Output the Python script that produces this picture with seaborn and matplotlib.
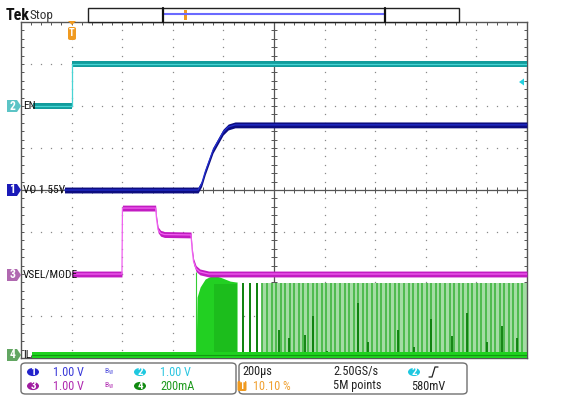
import numpy as np
import pandas as pd
import matplotlib
matplotlib.use("Agg")
import matplotlib.pyplot as plt
import seaborn as sns
from matplotlib.patches import FancyBboxPatch, Circle, Polygon, Rectangle
from matplotlib.lines import Line2D
from matplotlib import font_manager

# ---------------- data (time in microseconds relative to trigger) ----------------
en_t = [-154, 0, 0, 1798]
en_v = [0.0, 0.0, 1.0, 1.0]

vo_t = [-30, 498, 512, 526, 557, 597, 617, 644, 680, 1798]
vo_v = [0.0, 0.0, 0.15, 0.43, 0.95, 1.38, 1.50, 1.55, 1.55, 1.55]

vsel_t = [0, 197, 199, 330, 334, 340, 350, 365, 470, 474, 480, 490, 505, 540, 1798]
vsel_v = [0.0, 0.0, 1.57, 1.57, 1.30, 1.05, 0.97, 0.94, 0.93, 0.60, 0.30, 0.13, 0.05, 0.0, 0.0]

il_t = [-158, 490, 490, 494, 506, 526, 557, 585, 625, 648, 652, 652, 1798]
il_ma = [0, 0, 0, 276, 324, 362, 381, 371, 352, 348, 348, 0, 0]

pulse_t = [676, 704, 731, 752, 771, 789, 806, 824, 842, 861, 879, 897, 914, 933, 951,
           968, 987, 1005, 1023, 1041, 1059, 1077, 1095, 1113, 1131, 1149, 1167, 1186,
           1204, 1222, 1240, 1258, 1276, 1294, 1312, 1330, 1348, 1366, 1384, 1402, 1420,
           1438, 1456, 1474, 1492, 1510, 1528, 1546, 1564, 1582, 1600, 1618, 1636, 1654,
           1672, 1690, 1708, 1726, 1744, 1762, 1780]
pulse_ma = 343
dark_pulse_t = [676, 704, 731, 818, 858, 921, 953, 1008, 1131, 1170, 1290, 1350, 1420,
                1500, 1560, 1640, 1700, 1760]
dark_pulse_ma = [343, 343, 343, 119, 81, 95, 186, 20, 248, 60, 120, 40, 170, 90, 200, 60, 140, 80]

# channel settings: (scale per div, position in div)
ch_scale = {"1": 1.0, "2": 1.0, "3": 1.0, "4": 200.0}
ch_pos = {"1": 4.0, "2": 6.0, "3": 2.0, "4": 0.07}

W, H = 587, 398


def F(x, y):
    return (x / W, 1 - y / H)


sns.set_theme(style="white")
installed = {f.name for f in font_manager.fontManager.ttflist}
prefs = ["Roboto Condensed", "Liberation Sans Narrow", "DejaVu Sans Condensed", "Roboto", "Liberation Sans"]
fam = [p for p in prefs if p in installed][:1] + ["DejaVu Sans"]
plt.rcParams["font.family"] = fam
narrow = fam[0] in ("Roboto Condensed", "Liberation Sans Narrow", "DejaVu Sans Condensed")
k = 1.0 if narrow else 0.88

fig = plt.figure(figsize=(W / 100, H / 100), dpi=100)
fig.patch.set_facecolor("white")
ax = fig.add_axes([21 / W, 40 / H, 506 / W, 336 / H])
ax.set_facecolor("white")
X0, X1 = -202, 1798
ax.set_xlim(X0, X1)
ax.set_ylim(0, 8)
ax.set_xticks([])
ax.set_yticks([])
for s in ax.spines.values():
    s.set_color("#555555")
    s.set_linewidth(1.0)

# ---------------- graticule ----------------
gx, gy = [], []
for kk in range(1, 10):
    if kk == 5:
        continue
    for j in range(1, 40):
        gx.append(X0 + 200 * kk)
        gy.append(0.2 * j)
for kk in range(1, 8):
    if kk == 4:
        continue
    for j in range(1, 50):
        gx.append(X0 + 40 * j)
        gy.append(kk)
ax.plot(gx, gy, ls="none", marker="s", ms=0.9, mew=0, color="#8a8a8a", zorder=1)
ax.axhline(4, color="#555555", lw=0.9, zorder=1)
ax.axvline(X0 + 1000, color="#555555", lw=0.9, zorder=1)
tx = [X0 + 40 * j for j in range(1, 50)]
ty = [0.2 * j for j in range(1, 40)]
ax.plot(tx, [4] * len(tx), ls="none", marker="|", ms=4, mew=0.7, color="#555555", zorder=1)
ax.plot([X0 + 1000] * len(ty), ty, ls="none", marker="_", ms=4, mew=0.7, color="#555555", zorder=1)
ax.plot(tx, [8] * len(tx), ls="none", marker="|", ms=5, mew=0.7, color="#555555", zorder=1)
ax.plot(tx, [0] * len(tx), ls="none", marker="|", ms=5, mew=0.7, color="#555555", zorder=1)
ax.plot([X0] * len(ty), ty, ls="none", marker="_", ms=5, mew=0.7, color="#555555", zorder=1)
ax.plot([X1] * len(ty), ty, ls="none", marker="_", ms=5, mew=0.7, color="#555555", zorder=1)


def scr(ch, vals):
    return np.asarray(vals, dtype=float) / ch_scale[ch] + ch_pos[ch]


def trace(ch, t, v, band_col, core_col, band=0.055, core_lw=0.9, z=3):
    y = scr(ch, v)
    ax.fill_between(t, y - band, y + band, color=band_col, lw=0, zorder=z)
    df = pd.DataFrame({"t": t, "y": y})
    sns.lineplot(data=df, x="t", y="y", ax=ax, color=core_col, lw=core_lw,
                 estimator=None, sort=False, zorder=z + 0.1)


# IL (channel 4)
il_y = scr("4", il_ma)
ax.fill_between(il_t, ch_pos["4"], il_y, color="#22d022", lw=0, zorder=2)
ax.fill_between([560, 652], ch_pos["4"], scr("4", [340, 340]), color="#139a13", alpha=0.35, lw=0, zorder=2)
ax.fill_between([751, 1798], ch_pos["4"], scr("4", [pulse_ma, pulse_ma]), color="#a4dca4", lw=0, zorder=2)
ax.vlines(pulse_t, ch_pos["4"], scr("4", [pulse_ma] * len(pulse_t)), color="#48b848", lw=1.3, zorder=2)
ax.vlines(dark_pulse_t, ch_pos["4"], scr("4", dark_pulse_ma), color="#0a7d0a", lw=1.3, zorder=2)
ax.vlines([488], scr("4", [0])[0], scr("3", [0.05])[0], color="#33cc33", lw=0.8, zorder=2)
trace("4", [-158, 1798], [0, 0], "#1fd21f", "#119911", band=0.075, core_lw=0.8)

# VSEL/MODE (channel 3)
trace("3", vsel_t, vsel_v, "#c21cc2", "#f060f0", band=0.07)
# VO (channel 1)
trace("1", vo_t, vo_v, "#0c0c80", "#2430d0", band=0.07)
# EN (channel 2)
trace("2", en_t, en_v, "#129c9c", "#48d4d4", band=0.065)

# ---------------- channel labels on graticule ----------------
lab_fs = 8.2 * k
for txt, ypx in [("EN", 106), ("VO 1.55V", 190), ("VSEL/MODE", 275), ("IL", 355)]:
    fig.text(23 / W, 1 - ypx / H, txt, ha="left", va="center", fontsize=lab_fs, color="#111111")

# left channel markers
for num, ypx, col in [("2", 106, "#5cc4c6"), ("1", 190, "#1a1ab8"), ("3", 275, "#b068b0"), ("4", 355, "#62a662")]:
    pts = [(7, ypx - 6), (17, ypx - 6), (21, ypx), (17, ypx + 6), (7, ypx + 6)]
    fig.patches.append(Polygon([F(px, py) for px, py in pts], closed=True, transform=fig.transFigure,
                               facecolor=col, edgecolor="none"))
    fig.text(12.5 / W, 1 - ypx / H, num, ha="center", va="center", fontsize=8.5,
             color="white", fontweight="bold")

# trigger position marker (top) and trigger level marker (right)
fig.patches.append(Polygon([F(68, 21), F(76, 21), F(72, 25)], closed=True, transform=fig.transFigure,
                           facecolor="#f09a20", edgecolor="none"))
fig.patches.append(FancyBboxPatch(F(68, 40), 8 / W, 13 / H, boxstyle="round,pad=0,rounding_size=0.004",
                                  transform=fig.transFigure, facecolor="#f09a20", edgecolor="none"))
fig.text(72 / W, 1 - 33.5 / H, "T", ha="center", va="center", fontsize=7.5, color="white", fontweight="bold")
fig.patches.append(Polygon([F(519, 82), F(524, 78.5), F(524, 85.5)], closed=True, transform=fig.transFigure,
                           facecolor="#22d0e0", edgecolor="none"))

# ---------------- top bar ----------------
fig.text(6 / W, 1 - 15 / H, "Tek", ha="left", va="center", fontsize=11.5 * k, fontweight="bold", color="#111111")
fig.text(30 / W, 1 - 15 / H, "Stop", ha="left", va="center", fontsize=9.5 * k, color="#333333")
fig.patches.append(Rectangle(F(88, 22), (459 - 88) / W, 14 / H, transform=fig.transFigure,
                             facecolor="white", edgecolor="#222222", lw=1))
fig.lines.append(Line2D([163 / W, 385 / W], [1 - 14 / H] * 2, transform=fig.transFigure, color="#6a6aff", lw=1.5))
for xd in (163, 385):
    fig.lines.append(Line2D([xd / W] * 2, [1 - 8 / H, 1 - 22 / H], transform=fig.transFigure, color="#111111", lw=1.6))
fig.patches.append(Rectangle(F(183.5, 20), 3 / W, 10 / H, transform=fig.transFigure,
                             facecolor="#f09a20", edgecolor="none"))

# ---------------- bottom info panels ----------------
for x0, x1 in [(21, 236), (239, 467)]:
    fig.patches.append(FancyBboxPatch(F(x0, 394), (x1 - x0) / W, 31 / H,
                                      boxstyle="round,pad=0,rounding_size=0.008",
                                      transform=fig.transFigure, facecolor="white",
                                      edgecolor="#707070", lw=1))

info_fs = 8.8 * k


def badge(xc, yc, num, col):
    fig.patches.append(Circle(F(xc, yc), 6 / W, transform=fig.transFigure, facecolor=col, edgecolor="none"))
    fig.text(xc / W, 1 - yc / H, num, ha="center", va="center", fontsize=8, color="white", fontweight="bold")


def itext(x, y, s, col, fs=None):
    fig.text(x / W, 1 - y / H, s, ha="left", va="center", fontsize=fs or info_fs, color=col)


badge(33, 372, "1", "#2222cc")
itext(53, 372, "1.00 V", "#3a3ad8")
itext(104, 372, r"B$_{\mathregular{W}}$", "#5050dd", 5.5)
badge(140, 372, "2", "#1ec8e0")
itext(160, 372, "1.00 V", "#2cc6e0")

badge(33, 386, "3", "#a01ca0")
itext(53, 386, "1.00 V", "#b02ab0")
itext(104, 386, r"B$_{\mathregular{W}}$", "#b02ab0", 5.5)
badge(140, 386, "4", "#108a10")
itext(160, 386, "200mA", "#1e9a1e")

itext(242, 372, "200µs", "#222222")
itext(333, 372, "2.50GS/s", "#222222")
badge(414, 372, "2", "#1ec8e0")
fig.lines.append(Line2D([429 / W, 432 / W, 435 / W, 438 / W],
                        [1 - 377 / H, 1 - 377 / H, 1 - 367 / H, 1 - 367 / H],
                        transform=fig.transFigure, color="#222222", lw=0.9))
fig.patches.append(FancyBboxPatch(F(237.5, 391), 9 / W, 10 / H, boxstyle="round,pad=0,rounding_size=0.003",
                                  transform=fig.transFigure, facecolor="#f09a20", edgecolor="none"))
fig.text(242 / W, 1 - 386 / H, "T", ha="center", va="center", fontsize=7, color="white", fontweight="bold")
itext(253, 386, "10.10 %", "#f0a030")
itext(333, 386, "5M points", "#222222")
itext(411, 386, "580mV", "#222222")

fig.savefig("out.png", dpi=100)
